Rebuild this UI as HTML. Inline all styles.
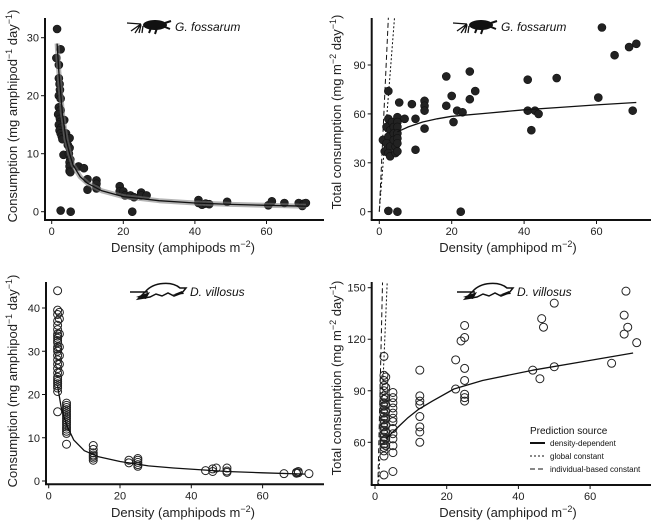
<!DOCTYPE html>
<html><head><meta charset="utf-8">
<style>
html,body{margin:0;padding:0;background:#fff;}
svg{display:block;font-family:"Liberation Sans",Arial,sans-serif;}
.tick{font-size:11px;fill:#222;}
.title{font-size:13px;fill:#222;}
</style></head>
<body>
<svg id="chart" width="669" height="529" viewBox="0 0 669 529" xmlns="http://www.w3.org/2000/svg"></svg>
<script>
// ---- Panel A: G. fossarum per-capita consumption ----
const aDensity = [1.5,1.3,2.5,2,2,2.2,2.3,2,2.5,2,2.5,1.8,2.3,2.5,2,2.7,2.2,2.5,2.8,3,3.5,4,3.3,4.5,5,5,4.8,5.2,5,5,5,5.2,2.5,5.3,7.5,9,10,10,12.5,12.5,12.5,19,19,20,20.5,22,23,22.5,25,25,26.5,41,41,42,43,44,49,60.5,61.5,65,69,70,70.5,71];
const aConsumption = [31.5,26.5,28,25.3,23,22,21,20,19.5,18,17.5,16.8,16,15.5,15,14.5,14,13.5,13,12.5,15.8,13.5,9.8,11.5,12.7,11,10,9,8.5,7.8,7,6.8,0.2,0,7.8,7.5,5.6,3.8,5.4,4.8,4,4.4,3.5,3.5,2.8,2.8,2.5,0,3.3,2.8,2.8,2,1.5,1.2,1.4,1.3,1.7,1.1,1.8,1.5,1.5,1,1.4,1.5];
const aFitDensity = [1.5,2,3,4,5,6,8,10,14,20,30,40,50,60,71];
const aFitValue = [29,24,17,12.5,10,8,6,4.9,3.6,2.6,1.9,1.5,1.25,1.1,0.95];
const aXTicks = [0,20,40,60];
const aYTicks = [0,10,20,30];

// ---- Panel B: G. fossarum total consumption ----
const bDensity = [2.5,1,1.5,2.5,2,3,2.5,2,3,2.5,3,3.5,4,4,4,4.5,4.5,5,5,5,5,5,5,5,5.5,7,9,10,10,12.5,12.5,12.5,12.5,2.5,5,18.5,18.5,20,20.5,21.5,23,22.5,25,25,26.5,41,41,42,43,44,49,60.5,61.5,65,69,71,70];
const bTotal = [74,44,37,57,52,50,46,42,40,36,34,55,52,48,44,40,36,58,55,52,48,45,42,37,67,57,66,57,38,68,65,62,51,0.5,0,83,65,71,55,62,61,0,86,69,74,81,62,50,62,60,82,70,113,96,101,103,62];
const bFitDensity = [5,8,12,16,20,30,40,50,60,71];
const bFitValue = [49,52,55,57,58.5,60.5,62.5,64,65.5,67];
const bGlobalX = [0,4.2]; const bGlobalY = [0,119];
const bIndivX = [0,2.5]; const bIndivY = [0,119];
const bXTicks = [0,20,40,60];
const bYTicks = [0,30,60,90];

// ---- Panel C: D. villosus per-capita consumption ----
const cDensity = [2.5,2.5,2.5,2.5,2.5,2.5,2.5,2.5,2.5,2.5,2.5,2.5,2.5,2.5,2.5,2.5,2.5,2.5,2.5,2.5,2.5,2.5,2.5,2.5,2.5,2.5,2.5,3,3,3,3,3,3,3,5,5,5,5,5,5,5,5,5,5,5,5,5,5,5,5,12.5,12.5,12.5,12.5,12.5,12.5,12.5,22.5,22.5,25,25,25,25,25,44,46,46,47,50,50,50,66,69.5,69.5,70,70,73];
const cConsumption = [44,39.5,38.5,37,36,35,34,33.5,33,32.5,32,31,30.5,30,29,28,27,26,25,24,23.5,23,22.5,22,21.5,20.7,16,39,37.5,34,31,29,27,25,18,17.5,17,16.5,16,15.5,15,14.5,14,13.5,13,12.5,12,11.5,11,8.5,8.2,7.3,6.5,6,5.7,5.3,4.8,4.8,4.2,5.2,4.8,4.3,3.8,3.4,2.4,2.2,2.8,3,3,2.3,2,1.7,1.8,2,1.9,2.2,1.7];
const cFitDensity = [2.5,3.5,5,7,10,14,20,28,35,50,60,72];
const cFitValue = [22,17,13,9.5,7,5.6,4.5,3.5,3,2.2,1.9,1.6];
const cXTicks = [0,20,40,60];
const cYTicks = [0,10,20,30,40];

// ---- Panel D: D. villosus total consumption ----
const dDensity = [2.5,2.5,2.5,2.5,2.5,2.5,2.5,2.5,2.5,2.5,2.5,2.5,2.5,2.5,2.5,2.5,2.5,2.5,2.5,2.5,2.5,2.5,2.5,2.5,3,3,3,3,3,3,3,3,3,3,5,5,5,5,5,5,5,5,5,5,5,5,5,12.5,12.5,12.5,12.5,12.5,12.5,12.5,12.5,22.5,22.5,24,25,25,25,25,25,25,25,44,46,46.5,47,50,50,66,69.5,69.5,70,70.5,73];
const dTotal = [110,99,96,93,90,87,85,83,81,79,77,75,73,71,69,67,65,63,61,59,57,55,52,41,98,92,86,82,78,74,70,66,62,58,89,86,83,80,77,74,72,68,65,62,58,54,43,102,87,84,82,75,69,66,60,108,91,119,128,121,103,96,88,86,84,102,97,132,127,141,104,106,123,134,148,127,118];
const dFitDensity = [3,5,7,9,12,16,22,30,44,58,72];
const dFitValue = [62,66,70,74,79,84,91,96,102,107,112];
const dGlobalX = [1,3.4]; const dGlobalY = [35,153];
const dIndivX = [0.8,2.1]; const dIndivY = [35,153];
const dXTicks = [0,20,40,60];
const dYTicks = [60,90,120,150];

const NS = "http://www.w3.org/2000/svg";
const svg = document.getElementById('chart');
function mk(tag, attrs, parent){
  const e = document.createElementNS(NS, tag);
  for (const k in attrs) e.setAttribute(k, attrs[k]);
  (parent||svg).appendChild(e);
  return e;
}
function linScale(d0,d1,r0,r1){ return v => r0 + (v-d0)*(r1-r0)/(d1-d0); }

function panel(cfg){
  const g = mk('g', {});
  
  
  const sx = linScale(0, cfg.xTicks[1], cfg.x0, cfg.x20);
  const sy = linScale(cfg.yT[0], cfg.yT[1], cfg.yP[0], cfg.yP[1]);
  const ax = mk('line', {x1:cfg.axisX, x2:cfg.axisX, y1:cfg.top, y2:cfg.axisY, stroke:'#111','stroke-width':2}, g);
   
  const axx = mk('line', {x1:cfg.axisX-1, x2:cfg.right, y1:cfg.axisY, y2:cfg.axisY, stroke:'#111','stroke-width':2}, g);
   
  cfg.xTicks.forEach(t=>{
    const X = sx(t);
    mk('line',{x1:X,x2:X,y1:cfg.axisY,y2:cfg.axisY+4,stroke:'#111','stroke-width':1},g);
    const tx = mk('text',{x:X,y:cfg.axisY+15,'text-anchor':'middle',class:'tick'},g);
    tx.textContent = t;
     
  });
  cfg.yTicks.forEach(t=>{
    const Y = sy(t);
    mk('line',{x1:cfg.axisX-4,x2:cfg.axisX,y1:Y,y2:Y,stroke:'#111','stroke-width':1},g);
    const tx = mk('text',{x:cfg.axisX-6,y:Y+4,'text-anchor':'end',class:'tick'},g);
    tx.textContent = t;
     
  });
  if (cfg.lines) cfg.lines.forEach(L=>{
    const l = mk('line',{x1:sx(L.x[0]),y1:sy(L.y[0]),x2:sx(L.x[1]),y2:sy(L.y[1]),stroke:'#111','stroke-width':1,'stroke-dasharray':L.dash},g);
     
  });
  const pg = mk('g',{},g);
   
  cfg.px.forEach((v,i)=>{
    const c = mk('circle',{cx:sx(v),cy:sy(cfg.py[i]),r:4,fill:cfg.filled?'#222':'none',stroke:cfg.filled?'#111':'#222','stroke-width':cfg.filled?0.6:1},pg);
     
  });
  const d = cfg.fx.map((v,i)=>(i?'L':'M')+sx(v).toFixed(1)+','+sy(cfg.fy[i]).toFixed(1)).join(' ');
  if (cfg.band){
    const b = mk('path',{d:d,fill:'none',stroke:'rgba(120,120,120,0.55)','stroke-width':5,'stroke-linejoin':'round'},g);
     
  }
  const f = mk('path',{d:d,fill:'none',stroke:'#111','stroke-width':1.3,'stroke-linejoin':'round'},g);
   
  const xt = mk('text',{x:cfg.xtx,y:cfg.xty,'text-anchor':'middle',class:'title'},g);
  xt.innerHTML = cfg.xTitle;
   
  const yt = mk('text',{x:0,y:0,'text-anchor':'middle',class:'title',transform:`translate(${cfg.ytx},${cfg.yty}) rotate(-90)`},g);
  yt.innerHTML = cfg.yTitle;
   
  const sl = mk('text',{x:cfg.lx,y:cfg.ly,'font-size':12,'font-style':'italic',fill:'#111'},g);
  sl.textContent = cfg.species;
   
  if (cfg.filled){
    const sil = mk('g',{transform:`translate(${cfg.lx-48},${cfg.ly-12})`},g);
     
    mk('path',{d:'M0,4 L14,5 M4,12 L14,5 L8,14 M14,6 L12,14 M16,7 L15,14',fill:'none',stroke:'#111','stroke-width':1.3},sil);
    mk('ellipse',{cx:28,cy:6,rx:12,ry:5,fill:'#111'},sil);
    mk('path',{d:'M24,9 L22,14 M30,9 L28,15 M38,4 L44,2 M38,8 L43,10',fill:'none',stroke:'#111','stroke-width':2},sil);
  } else {
    const sil = mk('g',{transform:`translate(${cfg.lx-60},${cfg.ly-12})`},g);
     
    mk('path',{d:'M0,8 L18,8 M16,7 C24,-2 42,-3 50,4 L56,4 L52,9 L44,12 L38,9 L32,12 L26,10 L20,13 L8,15 Z',fill:'none',stroke:'#111','stroke-width':1.5},sil);
    mk('path',{d:'M6,13 L20,8 L16,15 Z M42,11 L52,7 L54,10 Z',fill:'#111'},sil);
  }
  return g;
}

panel({name:'panel-a-gfossarum-per-capita', filled:true, band:true,
  px:aDensity, py:aConsumption, fx:aFitDensity, fy:aFitValue,
  xTicks:aXTicks, yTicks:aYTicks, x0:51.7, x20:123.3, yT:[0,30], yP:[211.7,37.7],
  axisX:45, axisY:220, top:18, right:324,
  xtx:183, xty:252, ytx:17, yty:116,
  xTitle:'Density (amphipods m<tspan dy="-5" font-size="9">−2</tspan><tspan dy="5">)</tspan>',
  yTitle:'Consumption (mg amphipod<tspan dy="-5" font-size="9">−1</tspan><tspan dy="5"> day</tspan><tspan dy="-5" font-size="9">−1</tspan><tspan dy="5">)</tspan>',
  species:'G. fossarum', lx:175, ly:31});

panel({name:'panel-b-gfossarum-total', filled:true,
  px:bDensity, py:bTotal, fx:bFitDensity, fy:bFitValue,
  lines:[{x:bGlobalX,y:bGlobalY,dash:'2,2',name:'global-constant-line'},{x:bIndivX,y:bIndivY,dash:'5,3',name:'individual-constant-line'}],
  xTicks:bXTicks, yTicks:bYTicks, x0:379.3, x20:451.7, yT:[0,90], yP:[211.7,65],
  axisX:371.7, axisY:220, top:18, right:651,
  xtx:508, xty:252, ytx:341, yty:112,
  xTitle:'Density (amphipod m<tspan dy="-5" font-size="9">−2</tspan><tspan dy="5">)</tspan>',
  yTitle:'Total consumption (mg m<tspan dy="-5" font-size="9">−2</tspan><tspan dy="5"> day</tspan><tspan dy="-5" font-size="9">−1</tspan><tspan dy="5">)</tspan>',
  species:'G. fossarum', lx:501, ly:31});

panel({name:'panel-c-dvillosus-per-capita', filled:false,
  px:cDensity, py:cConsumption, fx:cFitDensity, fy:cFitValue,
  xTicks:cXTicks, yTicks:cYTicks, x0:48.7, x20:120, yT:[0,40], yP:[481,308],
  axisX:46, axisY:484.3, top:282, right:324,
  xtx:183, xty:517, ytx:17, yty:381,
  xTitle:'Density (amphipods m<tspan dy="-5" font-size="9">−2</tspan><tspan dy="5">)</tspan>',
  yTitle:'Consumption (mg amphipod<tspan dy="-5" font-size="9">−1</tspan><tspan dy="5"> day</tspan><tspan dy="-5" font-size="9">−1</tspan><tspan dy="5">)</tspan>',
  species:'D. villosus', lx:190, ly:296});

panel({name:'panel-d-dvillosus-total', filled:false,
  px:dDensity, py:dTotal, fx:dFitDensity, fy:dFitValue,
  lines:[{x:dGlobalX,y:dGlobalY,dash:'2,2',name:'global-constant-line'},{x:dIndivX,y:dIndivY,dash:'5,3',name:'individual-constant-line'}],
  xTicks:dXTicks, yTicks:dYTicks, x0:375, x20:446.7, yT:[60,150], yP:[442.3,287.7],
  axisX:371.7, axisY:485, top:282, right:651,
  xtx:508, xty:517, ytx:341, yty:378,
  xTitle:'Density (amphipod m<tspan dy="-5" font-size="9">−2</tspan><tspan dy="5">)</tspan>',
  yTitle:'Total consumption (mg m<tspan dy="-5" font-size="9">−2</tspan><tspan dy="5"> day</tspan><tspan dy="-5" font-size="9">−1</tspan><tspan dy="5">)</tspan>',
  species:'D. villosus', lx:517, ly:296});

const lg = mk('g',{});
 
const lt = mk('text',{x:530,y:434,'font-size':10,fill:'#111'},lg);
lt.textContent = 'Prediction source';
 
const legendItems = [['density-dependent','none',2],['global constant','2,2',1],['individual-based constant','5,3',1]];
legendItems.forEach((it,i)=>{
  const y = 443 + i*13;
  const e = mk('g',{},lg);
   
  mk('line',{x1:530,x2:545,y1:y,y2:y,stroke:'#111','stroke-width':it[2],'stroke-dasharray':it[1]},e);
  const t = mk('text',{x:550,y:y+3,'font-size':8,fill:'#111'},e);
  t.textContent = it[0];
});
</script>
</body></html>
